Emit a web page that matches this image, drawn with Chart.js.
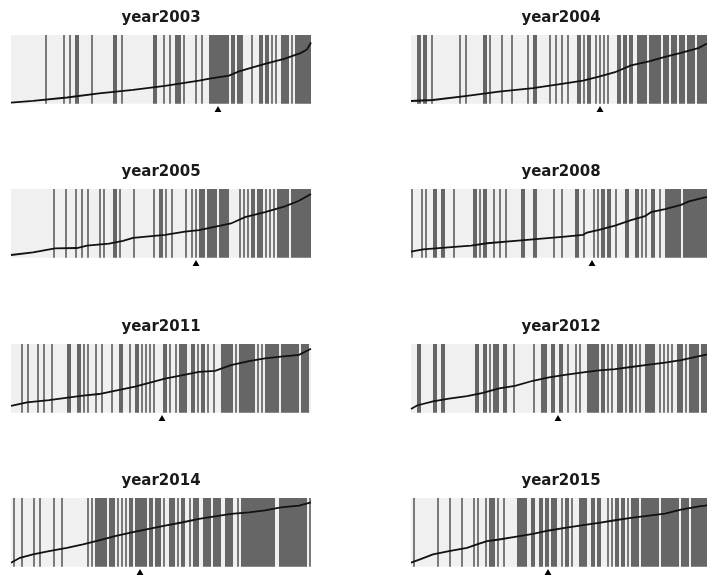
<!DOCTYPE html>
<html>
<head>
<meta charset="utf-8">
<script src="https://cdn.jsdelivr.net/npm/chart.js@4"></script>
<style>
  body { margin: 0; background: #fff; overflow: hidden; }
  #wrap { position: relative; width: 707px; height: 580px; overflow: hidden; }
  .panel { position: absolute; width: 330px; height: 119px; }
</style>
</head>
<body>
<div id="wrap"></div>
<script>
// ranked items per panel, hit positions (slot index, or [from, to])
const nSlots = 150;
const titles = ["year2003", "year2004", "year2005", "year2008", "year2011", "year2012", "year2014", "year2015"];
const markers = [103, 94, 92, 90, 75, 73, 64, 68];

const hits2003 = [17, 26, 29, [32,33], 40, 51, 52, 55, 71, 72, 76, 79, [82,84], 86, 92, 95, [99,106], [107,108], [110,111], [113,115], 120, [124,125], [127,128], 130, 132, [135,138], 140, [142,146], [147,149]];
const hits2004 = [3, 4, 6, 7, 10, 24, 27, 36, 37, 39, 45, 50, 58, [61,62], 69, 72, 75, 78, [83,84], 86, [88,89], 92, 94, 96, 98, [103,104], [106,107], [109,110], [113,117], [119,124], [126,128], [130,132], [134,136], [138,141], [143,149]];
const hits2005 = [21, 27, 32, 35, 38, 44, 46, 51, 52, 54, 61, 71, 74, 75, 77, 80, 87, 90, 92, [94,96], [98,102], [104,108], 114, 116, 118, [120,121], [123,125], 127, 129, 131, [133,138], [140,149]];
const hits2008 = [0, 5, 7, [11,12], 15, 16, 21, [31,32], 34, 36, 37, 41, 44, 47, 55, 56, [61,62], 71, 75, [82,83], 86, 91, 93, 95, 96, 98, 99, 102, [107,108], [112,113], 115, 117, [120,121], 124, [127,134], [136,149]];
const hits2011 = [5, 8, 13, 16, 20, [28,29], [33,34], 36, 38, 42, 45, 50, 54, 55, 59, [62,63], 65, 67, 69, 71, [76,77], 79, 82, [84,87], 90, 91, 93, 95, 96, 98, 101, [105,110], 112, [114,121], 123, 125, [127,133], [135,143], [145,148]];
const hits2012 = [3, 4, 11, 12, 15, 16, 32, 33, 36, 37, 39, 41, 42, 43, 46, 47, 51, 61, [65,67], 70, 71, 74, 75, 78, 82, 84, [88,93], 95, 96, 98, 100, 103, 104, 105, 107, 109, 110, 112, 114, [117,121], 124, 126, 128, 130, [133,135], 137, [139,143], [145,147]];
const hits2014 = [1, 5, 11, 14, 21, 25, 38, 40, [42,47], [49,51], 53, 55, 57, 59, 60, [62,67], 69, 70, [72,74], 76, [79,81], 83, [85,86], 89, [91,93], [96,99], [101,104], [107,110], 113, [115,131], [134,147], 149];
const hits2015 = [1, 13, 19, 25, 31, 33, 37, [39,41], 43, 46, [53,57], [60,61], [64,65], [67,68], [70,72], 75, 77, 78, 80, [84,87], [90,91], [93,94], 98, 100, 102, 103, 105, 106, 108, [110,113], [115,123], [125,133], [135,138], [140,149]];

// running curve, [slot, value]
const curve2003 = [[0,1.5],[11,4],[28,9],[44,15],[61,20],[77,26],[94,33.5],[100,37],[109,41],[114,47],[120,52],[127,58],[137,65.5],[145,74],[148,79],[150,89]];
const curve2004 = [[0,3.9],[11,5.4],[28,11.3],[44,17.7],[61,22.7],[77,29.6],[86,33.5],[94,39.4],[102,45.8],[110,55.7],[119,61.6],[127,68],[135,73.9],[144,81.3],[147,86.2],[150,89.7]];
const curve2005 = [[0,3.9],[11,7.8],[22,13.7],[33,14.1],[38,17.6],[49,20.5],[56,24.4],[61,28.8],[77,33.2],[87,38],[94,40],[97,42],[110,49.8],[117,59],[127,66.3],[137,74.6],[144,82.9],[150,92.7]];
const curve2008 = [[0,8.8],[6,12.2],[17,14.6],[30,17.6],[38,21],[52,24.4],[61,26.8],[77,30.7],[86,33.2],[88,36.6],[94,40.5],[102,46.8],[110,54.6],[117,60.5],[120,66.3],[127,70.7],[135,77],[139,82],[147,87.8],[150,88.8]];
const curve2011 = [[0,9.9],[8,14.9],[19,18.3],[36,24.8],[44,27.2],[62,38.1],[77,49.5],[84,53.5],[94,59.4],[102,60.9],[110,69.3],[119,75.2],[127,79.2],[135,81.7],[144,84.2],[150,93]];
const curve2012 = [[0,5.5],[3,10.5],[11,16.5],[19,20.5],[28,24],[36,29],[44,35.5],[52,39],[61,46.5],[69,51.5],[77,55],[87,59],[94,61.5],[102,63.5],[110,66.5],[119,70],[127,73],[135,76.5],[147,84],[150,86]];
const curve2014 = [[0,5.8],[4.5,13],[11,17.9],[19,22.7],[28,27.5],[36,32.4],[44,38.2],[52,44.4],[61,50.2],[69,55.1],[77,59.9],[86,64.7],[94,69.6],[102,73.4],[110,76.8],[119,79.2],[127,82.1],[135,86.5],[144,88.9],[150,93.7]];
const curve2015 = [[0,5.8],[4.5,10.6],[11,17.9],[19,22.7],[28,27.5],[33,32.4],[38,37.2],[44,39.6],[52,43.5],[61,47.8],[69,52.7],[77,56.5],[86,60.4],[94,63.8],[102,67.6],[110,71],[119,74.4],[127,77.3],[135,83.1],[144,87.9],[147,88.9],[150,90.3]];

const allHits = [hits2003, hits2004, hits2005, hits2008, hits2011, hits2012, hits2014, hits2015];
const allCurves = [curve2003, curve2004, curve2005, curve2008, curve2011, curve2012, curve2014, curve2015];

const slotLabels = [];
for (let i = 0; i < nSlots; i++) slotLabels.push(String(i + 1));

// light gray band between 0 and 100 on y
const bgPlugin = {
  id: "plotBg",
  beforeDatasetsDraw(chart) {
    const a = chart.chartArea;
    const y = chart.scales.y;
    const top = y.getPixelForValue(100);
    const bottom = y.getPixelForValue(0);
    const c = chart.ctx;
    c.save();
    c.fillStyle = "#f0f0f0";
    c.fillRect(a.left, top, a.right - a.left, bottom - top);
    c.restore();
  }
};

function hitValues(list) {
  const arr = new Array(nSlots).fill(null);
  list.forEach((h) => {
    const a = Array.isArray(h) ? h[0] : h;
    const b = Array.isArray(h) ? h[1] : h;
    for (let i = a; i <= b; i++) arr[i] = 100;
  });
  return arr;
}

// lone hits look a bit lighter, like in the original
function barColor(ctx) {
  const d = ctx.dataset.data;
  const i = ctx.dataIndex;
  const lone = d[i - 1] == null && d[i + 1] == null;
  return lone ? "#7a7a7a" : "#666666";
}

const wrap = document.getElementById("wrap");
const rowTops = [0, 154, 309, 463];

titles.forEach((title, k) => {
  const div = document.createElement("div");
  div.className = "panel";
  div.style.left = (k % 2 === 0 ? 0 : 400) + "px";
  div.style.top = rowTops[Math.floor(k / 2)] + "px";
  const cv = document.createElement("canvas");
  cv.width = 330;
  cv.height = 119;
  div.appendChild(cv);
  wrap.appendChild(div);

  new Chart(cv, {
    type: "bar",
    data: {
      labels: slotLabels,
      datasets: [
        {
          type: "line",
          data: allCurves[k].map((p) => ({ x: p[0], y: p[1] })),
          xAxisID: "xl",
          borderColor: "#111",
          borderWidth: 1.8,
          pointRadius: 0,
          tension: 0,
          clip: false,
          order: 0,
        },
        {
          type: "line",
          data: [{ x: markers[k] + 0.5, y: -9 }],
          xAxisID: "xl",
          showLine: false,
          pointStyle: "triangle",
          pointRadius: 4,
          pointBackgroundColor: "#000",
          pointBorderColor: "#000",
          pointBorderWidth: 0,
          clip: false,
          order: 0,
        },
        {
          type: "bar",
          data: hitValues(allHits[k]),
          xAxisID: "x",
          base: 0,
          backgroundColor: barColor,
          borderWidth: 0,
          barPercentage: 1,
          categoryPercentage: 1,
          grouped: false,
          inflateAmount: 0,
          order: 1,
        },
      ],
    },
    options: {
      responsive: false,
      animation: false,
      devicePixelRatio: 1,
      layout: { padding: { left: 11, right: 19, top: 0, bottom: 5 } },
      plugins: {
        legend: { display: false },
        tooltip: { enabled: false },
        title: {
          display: true,
          text: title,
          color: "#1a1a1a",
          font: { family: "DejaVu Sans", weight: "bold", size: 15 },
          padding: { top: 9, bottom: 8 },
        },
      },
      scales: {
        x: { type: "category", display: false, offset: true },
        xl: { type: "linear", axis: "x", display: false, offset: false, min: 0, max: nSlots },
        y: { display: false, min: -15, max: 100 },
      },
    },
    plugins: [bgPlugin],
  });
});
</script>
</body>
</html>
